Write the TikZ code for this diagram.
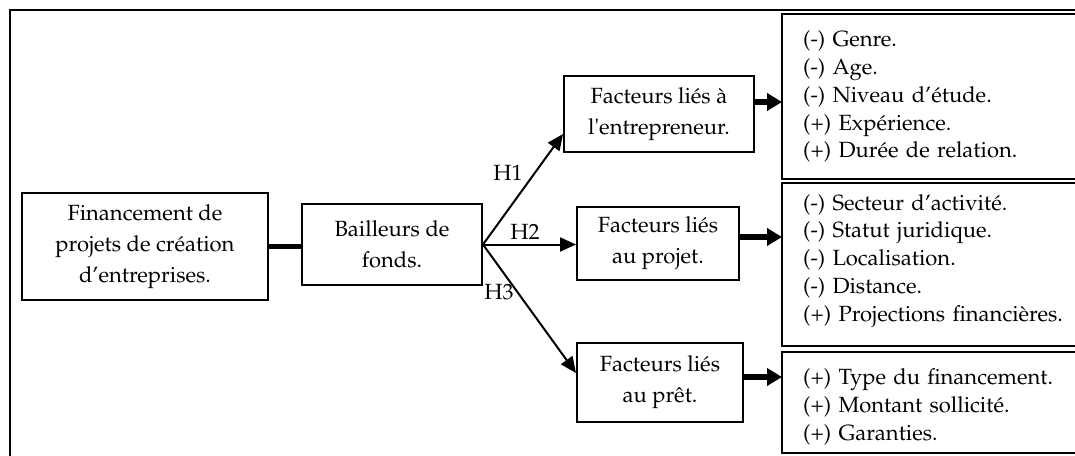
\documentclass[tikz,border=0pt]{standalone}
\usepackage[T1]{fontenc}
\renewcommand{\rmdefault}{ppl}
\usetikzlibrary{arrows.meta}
\begin{document}
\begin{tikzpicture}[x=1pt,y=-1pt,
  box/.style={draw,line width=2pt,align=center,inner sep=0pt,font=\fontsize{22}{31}\selectfont},
  list/.style={align=left,anchor=north west,inner xsep=21pt,inner ysep=0pt,font=\fontsize{22}{27.8}\selectfont},
  listline/.style={line width=2pt},
  fat/.style={line width=5.5pt,-{Triangle[length=15pt,width=17pt]}},
  thinarrow/.style={line width=2pt,-{Triangle[length=16pt,width=14pt]}},
  lab/.style={font=\fontsize{22}{26}\selectfont,inner sep=0pt}]
\useasboundingbox (0,0) rectangle (1075,455);
\clip (0,0) rectangle (1075,455);
\draw[line width=2.5pt] (10,470) -- (10,10) -- (1090,10);

\node[box,minimum width=246pt,minimum height=107pt] (fin) at (145,246.5) {Financement de\\projets de cr\'eation\\d'entreprises.};
\node[box,minimum width=180pt,minimum height=81pt] (bail) at (392,244.5) {Bailleurs de\\fonds.};
\node[box,minimum width=190pt,minimum height=76pt] (ent) at (659,114) {Facteurs li\'es \`a\\l\textquotesingle entrepreneur.};
\node[box,minimum width=162pt,minimum height=73pt] (proj) at (658,243.5) {Facteurs li\'es\\au projet.};
\node[box,minimum width=166pt,minimum height=79pt] (pret) at (660,382.5) {Facteurs li\'es\\au pr\^et.};

\node[list,text width=300pt,minimum height=165pt] (r1) at (782,14) {(-) Genre.\\(-) Age.\\(-) Niveau d'\'etude.\\(+) Exp\'erience.\\(+) Dur\'ee de relation.};
\node[list,text width=300pt,minimum height=163pt] (r2) at (782,183) {(-) Secteur d'activit\'e.\\(-) Statut juridique.\\(-) Localisation.\\(-) Distance.\\(+) Projections financi\`eres.\rule[-14pt]{0pt}{1pt}};
\node[list,text width=300pt,minimum height=101pt] (r3) at (782,352) {\rule{0pt}{24pt}(+) Type du financement.\\(+) Montant sollicit\'e.\\(+) Garanties.};
\foreach \r in {r1,r2,r3}
  \draw[listline] (\r.north east) -- (\r.north west) -- (\r.south west) -- (\r.south east);

\draw[line width=5pt] (fin.east) -- (fin.east -| bail.west);

\draw[thinarrow] (bail.east) -- ([yshift=-20pt]ent.west);
\draw[thinarrow] (bail.east) -- (bail.east -| proj.west);
\draw[thinarrow] (bail.east) -- ([yshift=9.5pt]pret.west);

\node[lab] (h1) at (508,173) {H1};
\node[lab] (h2) at (525,232) {H2};
\node[lab] (h3) at (499,292) {H3};

\draw[fat] ([yshift=12pt]ent.east) -- ([yshift=12pt]ent.east -| r1.west);
\draw[fat] ([yshift=6.5pt]proj.east) -- ([yshift=6.5pt]proj.east -| r2.west);
\draw[fat] ([yshift=5.5pt]pret.east) -- ([yshift=5.5pt]pret.east -| r3.west);
\end{tikzpicture}
\end{document}
